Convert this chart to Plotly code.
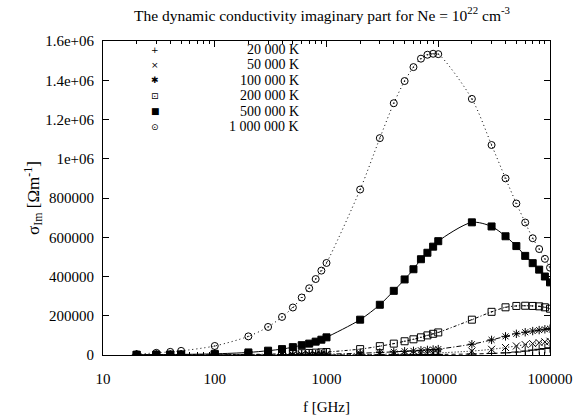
import plotly.graph_objects as go

# ---------------- data ----------------
freq_ghz = [20, 30, 40, 50, 100, 200, 300, 400, 500, 600, 700, 800, 900, 1000,
            2000, 3000, 4000, 5000, 6000, 7000, 8000, 9000, 10000,
            20000, 30000, 40000, 50000, 60000, 70000, 80000, 90000, 100000]

sigma_20k = [6, 9, 12, 15, 30, 60, 90, 120, 150, 180, 210, 240, 270, 300,
             600, 900, 1200, 1500, 1800, 2100, 2400, 2700, 3000,
             5000, 8000, 11000, 15000, 20000, 25000, 29000, 33000, 37000]

sigma_50k = [26, 39, 52, 65, 130, 260, 390, 520, 650, 780, 910, 1040, 1170, 1300,
             2500, 3700, 4800, 5800, 6800, 7800, 8700, 9600, 10500,
             20000, 29000, 38000, 46000, 53000, 58000, 63000, 67000, 70000]

sigma_100k = [100, 150, 200, 250, 500, 1000, 1500, 2000, 2500, 3000, 3400, 3800, 4200, 4600,
              9000, 13000, 16000, 19000, 21000, 24000, 26000, 28000, 30000,
              55000, 77000, 95000, 108000, 116000, 122000, 127000, 131000, 134000]

sigma_200k = [300, 450, 600, 750, 1500, 3000, 4500, 6000, 7500, 9000, 10500, 12000, 13500, 15000,
              30000, 45000, 58000, 70000, 80000, 90000, 100000, 108000, 115000,
              180000, 220000, 243000, 250000, 251000, 250000, 248000, 243000, 236000]

sigma_500k = [1500, 2000, 2500, 3000, 6000, 13000, 22000, 30000, 40000, 50000, 58000, 68000, 78000, 90000,
              180000, 256000, 327000, 385000, 437000, 488000, 521000, 552000, 580000,
              676000, 655000, 605000, 555000, 505000, 468000, 435000, 400000, 370000]

sigma_1000k = [4000, 11000, 16000, 21000, 46000, 95000, 143000, 194000, 242000, 293000, 340000, 387000, 430000, 469000,
               843000, 1105000, 1283000, 1396000, 1467000, 1510000, 1530000, 1535000, 1533000,
               1305000, 1070000, 900000, 772000, 675000, 595000, 540000, 490000, 445000]

series_names = ["20 000 K", "50 000 K", "100 000 K", "200 000 K", "500 000 K", "1 000 000 K"]

x_tick_vals = [10, 100, 1000, 10000, 100000]
x_tick_text = ["10", "100", "1000", "10000", "100000"]
y_tick_vals = [0, 200000, 400000, 600000, 800000, 1000000, 1200000, 1400000, 1600000]
y_tick_text = ["0", "200000", "400000", "600000", "800000", "1e+06", "1.2e+06", "1.4e+06", "1.6e+06"]

# ---------------- styles ----------------
all_values = [sigma_20k, sigma_50k, sigma_100k, sigma_200k, sigma_500k, sigma_1000k]
symbols = ["cross-thin-open", "x-thin-open", "asterisk-open", "square-open-dot", "square", "circle-open-dot"]
sizes = [7, 7, 7, 7, 7, 7]
dashes = ["4px,3px", "1px,2px", "5px,2px,1px,2px", "3px,2px,1px,2px", "solid", "1px,3px"]
legend_glyphs = ["+", "×", "✱", "⊡", "■", "⊙"]

FONT = "Liberation Serif, Times New Roman, serif"

W, H = 581, 416
ML, MR, MT, MB = 103, 31, 41, 61
PW = W - ML - MR
PH = H - MT - MB

fig = go.Figure()
for name, vals, sym, sz, dsh in zip(series_names, all_values, symbols, sizes, dashes):
    fig.add_trace(go.Scatter(
        x=freq_ghz, y=vals, name=name, mode="lines+markers",
        line=dict(color="black", width=1, dash=dsh, shape="spline", smoothing=0.8),
        marker=dict(symbol=sym, size=sz, color="black",
                    line=dict(color="black", width=1)),
        showlegend=False,
    ))

# legend drawn as text (marker glyph + right-aligned label), gnuplot style
annotations = []
leg_mark_x = (155 - ML) / PW
leg_text_x = (301 - ML) / PW
for i, (name, glyph) in enumerate(zip(series_names, legend_glyphs)):
    ypos = 1 - (49.5 + i * 15.4 - MT) / PH
    annotations.append(dict(xref="paper", yref="paper", x=leg_mark_x, y=ypos,
                            text=glyph, showarrow=False, xanchor="center", yanchor="middle",
                            font=dict(family="DejaVu Sans", size=9, color="black")))
    annotations.append(dict(xref="paper", yref="paper", x=leg_text_x, y=ypos,
                            text=name, showarrow=False, xanchor="right", yanchor="middle",
                            font=dict(family=FONT, size=14, color="black")))

fig.update_layout(
    width=W, height=H,
    margin=dict(l=ML, r=MR, t=MT, b=MB, autoexpand=False),
    paper_bgcolor="white", plot_bgcolor="white",
    font=dict(family=FONT, size=15, color="black"),
    title=dict(text="The dynamic conductivity imaginary part for Ne = 10<sup>22</sup> cm<sup>-3</sup>",
               x=322 / W, xref="container", xanchor="center",
               y=1 - 10 / H, yref="container", yanchor="top",
               font=dict(family=FONT, size=15.5, color="black")),
    annotations=annotations,
    showlegend=False,
)

fig.update_xaxes(
    type="log", range=[1, 5], automargin=False,
    tickvals=x_tick_vals, ticktext=x_tick_text,
    ticks="inside", ticklen=6, tickwidth=1, tickcolor="black",
    minor=dict(ticks="inside", ticklen=3, tickcolor="black", dtick="D1", showgrid=False),
    showline=True, linecolor="black", linewidth=1, mirror="ticks",
    showgrid=False, zeroline=False,
    ticklabelstandoff=10,
    title=dict(text="f [GHz]", font=dict(family=FONT, size=15), standoff=15),
    tickfont=dict(family=FONT, size=15),
)
fig.update_yaxes(
    range=[0, 1600000], automargin=False,
    tickvals=y_tick_vals, ticktext=y_tick_text,
    ticks="inside", ticklen=6, tickwidth=1, tickcolor="black",
    showline=True, linecolor="black", linewidth=1, mirror="ticks",
    showgrid=False, zeroline=False,
    ticklabelstandoff=5,
    title=dict(text="σ<sub>Im</sub> [Ωm<sup>-1</sup>]", font=dict(family=FONT, size=17), standoff=1),
    tickfont=dict(family=FONT, size=15),
)

fig.write_html("out.html", config={"displayModeBar": False},
               post_script="document.body.style.margin='0';")
